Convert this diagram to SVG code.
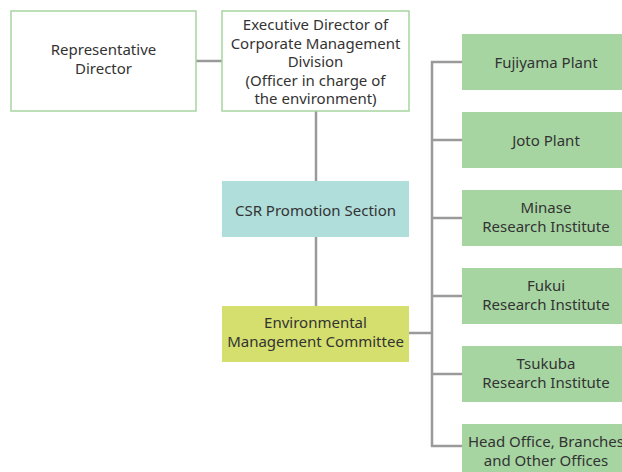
<svg xmlns="http://www.w3.org/2000/svg" width="622" height="472" viewBox="0 0 622 472">
  <style>
    text { font-family: "Noto Sans", "Open Sans", sans-serif; font-size: 15px; fill: #333333; text-anchor: middle; }
    .outline { fill: #ffffff; stroke: #a6d5a0; stroke-width: 1.5; }
    .site { fill: #a6d5a2; }
    .csr { fill: #b0dedb; }
    .committee { fill: #d4df6e; }
    .link { stroke: #9a9a9a; stroke-width: 2.5; fill: none; }
  </style>

  <g id="connectors">
    <line class="link" x1="196" y1="61" x2="222" y2="61"/>
    <line class="link" x1="316" y1="111" x2="316" y2="181"/>
    <line class="link" x1="316" y1="237" x2="316" y2="306"/>
    <line class="link" x1="409" y1="333" x2="432" y2="333"/>
    <line class="link" x1="432" y1="61" x2="432" y2="447"/>
    <line class="link" x1="431" y1="62" x2="462" y2="62"/>
    <line class="link" x1="431" y1="140" x2="462" y2="140"/>
    <line class="link" x1="431" y1="218" x2="462" y2="218"/>
    <line class="link" x1="431" y1="296" x2="462" y2="296"/>
    <line class="link" x1="431" y1="374" x2="462" y2="374"/>
    <line class="link" x1="431" y1="446" x2="462" y2="446"/>
  </g>

  <g id="representative-director">
    <rect class="outline" x="11" y="11" width="185" height="100"/>
    <text x="103.5" y="55">Representative</text>
    <text x="103.5" y="74">Director</text>
  </g>

  <g id="executive-director">
    <rect class="outline" x="222" y="11" width="187" height="100"/>
    <text x="315.5" y="30">Executive Director of</text>
    <text x="315.5" y="49">Corporate Management</text>
    <text x="315.5" y="67">Division</text>
    <text x="315.5" y="86">(Officer in charge of</text>
    <text x="315.5" y="104">the environment)</text>
  </g>

  <g id="csr-promotion-section">
    <rect class="csr" x="222" y="181" width="187" height="56"/>
    <text x="315.5" y="216">CSR Promotion Section</text>
  </g>

  <g id="environmental-management-committee">
    <rect class="committee" x="222" y="306" width="187" height="56"/>
    <text x="315.5" y="328">Environmental</text>
    <text x="315.5" y="347">Management Committee</text>
  </g>

  <g id="fujiyama-plant">
    <rect class="site" x="462" y="34" width="168" height="56"/>
    <text x="546" y="68">Fujiyama Plant</text>
  </g>

  <g id="joto-plant">
    <rect class="site" x="462" y="112" width="168" height="56"/>
    <text x="546" y="146">Joto Plant</text>
  </g>

  <g id="minase-research-institute">
    <rect class="site" x="462" y="190" width="168" height="56"/>
    <text x="546" y="213">Minase</text>
    <text x="546" y="232">Research Institute</text>
  </g>

  <g id="fukui-research-institute">
    <rect class="site" x="462" y="268" width="168" height="56"/>
    <text x="546" y="291">Fukui</text>
    <text x="546" y="310">Research Institute</text>
  </g>

  <g id="tsukuba-research-institute">
    <rect class="site" x="462" y="346" width="168" height="56"/>
    <text x="546" y="369">Tsukuba</text>
    <text x="546" y="388">Research Institute</text>
  </g>

  <g id="head-office">
    <rect class="site" x="462" y="424" width="168" height="60"/>
    <text x="546" y="447">Head Office, Branches</text>
    <text x="546" y="466">and Other Offices</text>
  </g>
</svg>
